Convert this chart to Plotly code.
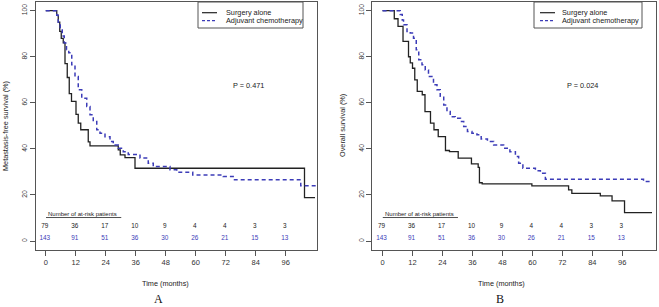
import plotly.graph_objects as go

# ---------------- data ----------------
a_surg_t = [0, 4.4, 5.0, 5.6, 6.2, 7.0, 7.7, 8.6, 9.4, 10.3, 12.1, 13.0, 14.0, 17.0, 17.7, 29.0, 29.8, 31.7, 35.7, 103.5, 107.7]
a_surg_s = [100, 98, 95, 91, 88, 86, 77, 71, 64, 60.6, 55, 51.2, 48.3, 43, 41.3, 39.6, 37.4, 36.2, 31.6, 18.8, 18.8]

a_chemo_t = [0, 4.4, 5.0, 5.8, 6.6, 7.4, 8.3, 9.2, 10.4, 11.7, 13.0, 14.4, 16.4, 17.7, 19.0, 20.4, 21.7, 23.7, 25.7,
             27.0, 29.0, 31.0, 33.0, 37.7, 41.0, 43.0, 49.7, 52.4, 58.8, 71.0, 75.5, 102.0, 108.4]
a_chemo_s = [100, 98, 95, 92, 89, 86, 83, 81.7, 76.5, 71.4, 65.7, 62, 58.4, 54.8, 51.9, 48.3, 46.8, 45.3, 43.2,
             41.7, 40.3, 38.8, 37.6, 36, 33.8, 32.3, 30.9, 29.9, 28.7, 28.0, 26.6, 24.0, 24.0]

b_surg_t = [0, 4.7, 6.2, 8.2, 10.4, 11.1, 12.0, 12.9, 13.9, 15.9, 17.0, 19.2, 20.6, 22.3, 25.2, 26.8, 30.3, 35.6,
            38.3, 38.8, 39.9, 59.8, 74.5, 75.8, 87.2, 91.9, 96.9, 107.9]
b_surg_s = [100, 96.5, 93.2, 86.7, 80, 77.3, 75, 70, 65, 63.5, 56.2, 51.2, 48.3, 45.3, 39.3, 38.8, 36, 33.5,
            32, 25.3, 24.8, 23.9, 22.2, 20.7, 19.6, 17.4, 12.3, 12.3]

b_chemo_t = [0, 7.1, 7.9, 8.4, 9.8, 11.1, 12.4, 13.5, 14.5, 15.8, 17.1, 18.4, 20.4, 21.8, 23.1, 24.5, 25.8, 27.1,
             29.1, 31.2, 32.5, 34.0, 35.8, 37.8, 39.5, 42.0, 44.5, 48.5, 51.0, 53.2, 54.5, 56.2, 61.2, 63.2, 65.2,
             104.5, 107.9]
b_chemo_s = [100, 98.3, 96, 93.9, 91, 90.3, 88, 83, 78.7, 76.5, 74.3, 71.4, 67.8, 65.7, 62.8, 59.1, 56.2, 54,
             53.3, 51.9, 49.7, 47.5, 46.8, 46.1, 44.3, 43.2, 41.7, 40.3, 38.8, 36.7, 33.8, 31.6, 30.5, 29.4, 26.8,
             25.8, 25.8]

risk_times = [0, 12, 24, 36, 48, 60, 72, 84, 96]
risk_surgery = [79, 36, 17, 10, 9, 4, 4, 3, 3]
risk_chemo = [143, 91, 51, 36, 30, 26, 21, 15, 13]

x_ticks = [0, 12, 24, 36, 48, 60, 72, 84, 96]
y_ticks = [0, 20, 40, 60, 80, 100]

series_names = ["Surgery alone", "Adjuvant chemotherapy"]
p_values = ["P = 0.471", "P = 0.024"]
y_titles = ["Metastasis-free survival (%)", "Overall survival (%)"]
panel_labels = ["A", "B"]

# ---------------- style ----------------
W, H = 659, 307
FONT = "Liberation Sans, Arial, sans-serif"
BLACK = "#222222"
BLUE = "#3c3cb8"
AXC = "#555555"


def px(x):
    return x / W


def py(y):
    return 1 - y / H


fig = go.Figure()

panels = [
    dict(xa="x", ya="y", st=a_surg_t, ss=a_surg_s, ct=a_chemo_t, cs=a_chemo_s),
    dict(xa="x2", ya="y2", st=b_surg_t, ss=b_surg_s, ct=b_chemo_t, cs=b_chemo_s),
]

for p in panels:
    fig.add_trace(go.Scatter(x=p["st"], y=p["ss"], mode="lines", line_shape="hv",
                             line=dict(color=BLACK, width=1.3), name=series_names[0],
                             xaxis=p["xa"], yaxis=p["ya"], showlegend=False, hoverinfo="skip"))
    fig.add_trace(go.Scatter(x=p["ct"], y=p["cs"], mode="lines", line_shape="hv",
                             line=dict(color=BLUE, width=1.5, dash="4px,3px"), name=series_names[1],
                             xaxis=p["xa"], yaxis=p["ya"], showlegend=False, hoverinfo="skip"))
    fig.add_trace(go.Scatter(x=[t - 0.4 for t in risk_times], y=[6.3] * len(risk_times),
                             text=[str(v) for v in risk_surgery], mode="text",
                             textfont=dict(family=FONT, size=6.4, color=BLACK),
                             xaxis=p["xa"], yaxis=p["ya"], showlegend=False, hoverinfo="skip"))
    fig.add_trace(go.Scatter(x=[t - 0.4 for t in risk_times], y=[1.2] * len(risk_times),
                             text=[str(v) for v in risk_chemo], mode="text",
                             textfont=dict(family=FONT, size=6.4, color=BLUE),
                             xaxis=p["xa"], yaxis=p["ya"], showlegend=False, hoverinfo="skip"))

axis_common = dict(showline=True, mirror=True, linecolor=AXC, linewidth=1, showgrid=False,
                   zeroline=False, ticks="outside", ticklen=5, tickcolor=AXC, tickwidth=1)

fig.update_layout(
    width=W, height=H,
    margin=dict(l=0, r=0, t=0, b=0),
    paper_bgcolor="white", plot_bgcolor="white",
    font=dict(family=FONT, color="#333333"),
    xaxis=dict(domain=[px(36), px(317)], range=[-3.9, 108.5], tickvals=x_ticks,
               tickfont=dict(size=7.5), anchor="y", **axis_common),
    yaxis=dict(domain=[py(250), py(1.7)], range=[-3.9, 103.9], tickvals=y_ticks,
               tickangle=-90, tickfont=dict(size=6.8), anchor="x", **axis_common),
    xaxis2=dict(domain=[px(372.3), px(656)], range=[-4.1, 109.5], tickvals=x_ticks,
                tickfont=dict(size=7.5), anchor="y2", **axis_common),
    yaxis2=dict(domain=[py(250), py(1.7)], range=[-3.9, 103.9], tickvals=y_ticks,
                tickangle=-90, tickfont=dict(size=6.8), anchor="x2", **axis_common),
)

annotations = []
shapes = []

legend_boxes = [
    dict(x0=198, x1=303, l0=202, l1=217, tx=224),
    dict(x0=534, x1=642, l0=540, l1=555, tx=560),
]
p_pos = [(248, 85), (582, 85)]
xtitle_pos = [(165, 283), (501, 283)]
ytitle_pos = [(6, 126), (343, 126)]
label_pos = [(158, 299), (500, 299)]
axes = [("x", "y"), ("x2", "y2")]

for i in range(2):
    lb = legend_boxes[i]
    shapes.append(dict(type="rect", xref="paper", yref="paper", x0=px(lb["x0"]), x1=px(lb["x1"]),
                       y0=py(28), y1=py(2), line=dict(color=AXC, width=1), fillcolor="white", layer="above"))
    shapes.append(dict(type="line", xref="paper", yref="paper", x0=px(lb["l0"]), x1=px(lb["l1"]),
                       y0=py(12.7), y1=py(12.7), line=dict(color=BLACK, width=1.2)))
    shapes.append(dict(type="line", xref="paper", yref="paper", x0=px(lb["l0"]), x1=px(lb["l1"]),
                       y0=py(20.7), y1=py(20.7), line=dict(color=BLUE, width=1.3, dash="3px,2px")))
    for name, yy in zip(series_names, [12.7, 20.7]):
        annotations.append(dict(text=name, xref="paper", yref="paper", x=px(lb["tx"]), y=py(yy),
                                xanchor="left", yanchor="middle", showarrow=False,
                                font=dict(size=7.3, color="#222222")))
    annotations.append(dict(text=p_values[i], xref="paper", yref="paper", x=px(p_pos[i][0]), y=py(p_pos[i][1]),
                            xanchor="center", yanchor="middle", showarrow=False,
                            font=dict(size=7.3, color="#222222")))
    annotations.append(dict(text="Time (months)", xref="paper", yref="paper", x=px(xtitle_pos[i][0]),
                            y=py(xtitle_pos[i][1]), xanchor="center", yanchor="middle", showarrow=False,
                            font=dict(size=7.3, color="#222222")))
    annotations.append(dict(text=y_titles[i], xref="paper", yref="paper", x=px(ytitle_pos[i][0]),
                            y=py(ytitle_pos[i][1]), xanchor="center", yanchor="middle", showarrow=False,
                            textangle=-90, font=dict(size=7.3, color="#222222")))
    annotations.append(dict(text=panel_labels[i], xref="paper", yref="paper", x=px(label_pos[i][0]),
                            y=py(label_pos[i][1]), xanchor="center", yanchor="middle", showarrow=False,
                            font=dict(size=12, family="Liberation Serif, Times New Roman, serif", color="#111111")))
    xa, ya = axes[i]
    annotations.append(dict(text="Number of at-risk patients", xref=xa, yref=ya, x=14.8, y=11.9,
                            xanchor="center", yanchor="middle", showarrow=False,
                            font=dict(size=6.0, color="#222222")))
    shapes.append(dict(type="line", xref=xa, yref=ya, x0=0.1, x1=30.2, y0=10.2, y1=10.2,
                       line=dict(color=BLACK, width=0.8)))

fig.update_layout(annotations=annotations, shapes=shapes)

fig.write_html("out.html", config={"displayModeBar": False},
               post_script="document.body.style.margin='0';document.body.style.overflow='hidden';")
